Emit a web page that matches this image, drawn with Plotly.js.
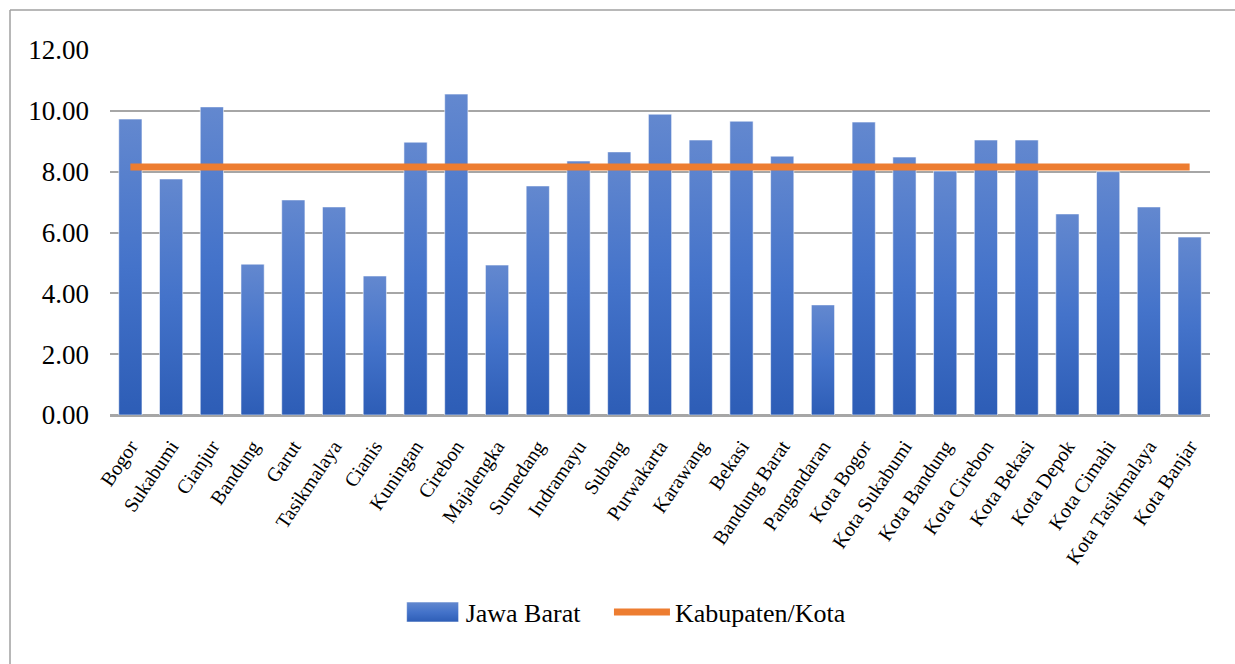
<!DOCTYPE html>
<html>
<head>
<meta charset="utf-8">
<script src="https://cdn.plot.ly/plotly-3.0.1.min.js"></script>
<style>
  html, body { margin: 0; padding: 0; background: #ffffff; }
  #chart { width: 1235px; height: 664px; }
</style>
</head>
<body>
<div id="chart"></div>
<script>
// Kabupaten/Kota in Jawa Barat
const regions = [
  "Bogor", "Sukabumi", "Cianjur", "Bandung", "Garut", "Tasikmalaya", "Cianis",
  "Kuningan", "Cirebon", "Majalengka", "Sumedang", "Indramayu", "Subang",
  "Purwakarta", "Karawang", "Bekasi", "Bandung Barat", "Pangandaran",
  "Kota Bogor", "Kota Sukabumi", "Kota Bandung", "Kota Cirebon", "Kota Bekasi",
  "Kota Depok", "Kota Cimahi", "Kota Tasikmalaya", "Kota Banjar"
];

// Jawa Barat series (bars)
const jawaBarat = [
  9.73, 7.76, 10.13, 4.96, 7.07, 6.84, 4.57,
  8.97, 10.55, 4.93, 7.53, 8.35, 8.65,
  9.89, 9.04, 9.66, 8.51, 3.62,
  9.63, 8.48, 8.02, 9.04, 9.04,
  6.61, 8.00, 6.84, 5.85
];

// Kabupaten/Kota reference level (line)
const kabupatenKota = regions.map(() => 8.15);

const yTicks = [0, 2, 4, 6, 8, 10, 12];
const yTickText = ["0.00", "2.00", "4.00", "6.00", "8.00", "10.00", "12.00"];

const serif = "Liberation Serif, Times New Roman, serif";

const traces = [
  {
    type: "bar",
    name: "Jawa Barat",
    x: regions,
    y: jawaBarat,
    legend: "legend",
    marker: { color: "#4472C4", line: { color: "rgba(255,255,255,0.55)", width: 1 } },
    hoverinfo: "x+y"
  },
  {
    type: "scatter",
    mode: "lines",
    name: "Kabupaten/Kota",
    x: regions,
    y: kabupatenKota,
    legend: "legend2",
    line: { color: "#ED7D31", width: 7 },
    hoverinfo: "x+y"
  }
];

// frame along the top and left of the figure
const frameColor = "#A0A0A0";
const shapes = [
  { type: "line", xref: "paper", yref: "paper", x0: -0.0909, x1: 1.03, y0: 1.1096, y1: 1.1096,
    line: { color: frameColor, width: 1.5 } },
  { type: "line", xref: "paper", yref: "paper", x0: -0.0909, x1: -0.0909, y0: -0.69, y1: 1.1096,
    line: { color: frameColor, width: 1.5 } }
];

const legendBase = {
  orientation: "h",
  xanchor: "left",
  y: -0.54,
  yanchor: "middle",
  font: { family: serif, size: 26, color: "#000000" },
  itemwidth: 56,
  bgcolor: "rgba(0,0,0,0)"
};

const layout = {
  width: 1235,
  height: 664,
  margin: { l: 110, r: 25, t: 50, b: 249 },
  paper_bgcolor: "#ffffff",
  plot_bgcolor: "#ffffff",
  bargap: 0.43,
  showlegend: true,
  shapes: shapes,
  font: { family: serif, color: "#000000" },
  xaxis: {
    type: "category",
    tickangle: -56,
    tickfont: { family: serif, size: 20, color: "#000000" },
    ticklabelstandoff: 10,
    showgrid: false,
    showline: true,
    linecolor: "#A6A6A6",
    linewidth: 1.5,
    ticks: "",
    fixedrange: true
  },
  yaxis: {
    range: [0, 12],
    tickvals: yTicks,
    ticktext: yTickText,
    tickfont: { family: serif, size: 27, color: "#000000" },
    ticklabelstandoff: 20,
    showgrid: true,
    gridcolor: "#A6A6A6",
    gridwidth: 1.5,
    zeroline: true,
    zerolinecolor: "#A6A6A6",
    zerolinewidth: 1.5,
    showline: false,
    ticks: "",
    fixedrange: true
  },
  legend: Object.assign({}, legendBase, { x: 0.2633 }),
  legend2: Object.assign({}, legendBase, { x: 0.4536 })
};

function addGradient(gd) {
  const svgNS = "http://www.w3.org/2000/svg";
  const defs = gd.querySelector(".main-svg defs");
  if (!defs || defs.querySelector("#barFade")) return;
  const grad = document.createElementNS(svgNS, "linearGradient");
  grad.setAttribute("id", "barFade");
  grad.setAttribute("x1", "0"); grad.setAttribute("y1", "0");
  grad.setAttribute("x2", "0"); grad.setAttribute("y2", "1");
  [["0", "#6388CF"], ["0.5", "#4473CA"], ["1", "#2D5DB6"]].forEach(function (s) {
    const stop = document.createElementNS(svgNS, "stop");
    stop.setAttribute("offset", s[0]);
    stop.setAttribute("stop-color", s[1]);
    grad.appendChild(stop);
  });
  defs.appendChild(grad);
}

// vertical gradient on every bar (lighter at the top) and a wide legend swatch
function styleBars(gd) {
  addGradient(gd);
  gd.querySelectorAll(".barlayer .point path").forEach(function (p) {
    p.style.fill = "url(#barFade)";
  });
  gd.querySelectorAll(".legend path.legendbar, .legend .legendpoints path").forEach(function (p) {
    if (p.classList.contains("js-line")) return;
    const d = p.getAttribute("d") || "";
    if (d.indexOf("H") < 0 && d.indexOf("h") < 0) return;
    p.setAttribute("d", "M-26,-10h52v20h-52Z");
    p.style.fill = "url(#barFade)";
  });
}

Plotly.newPlot("chart", traces, layout, { displayModeBar: false }).then(function (gd) {
  styleBars(gd);
  gd.on("plotly_afterplot", function () { styleBars(gd); });
  setTimeout(function () { styleBars(gd); }, 50);
});
</script>
</body>
</html>
